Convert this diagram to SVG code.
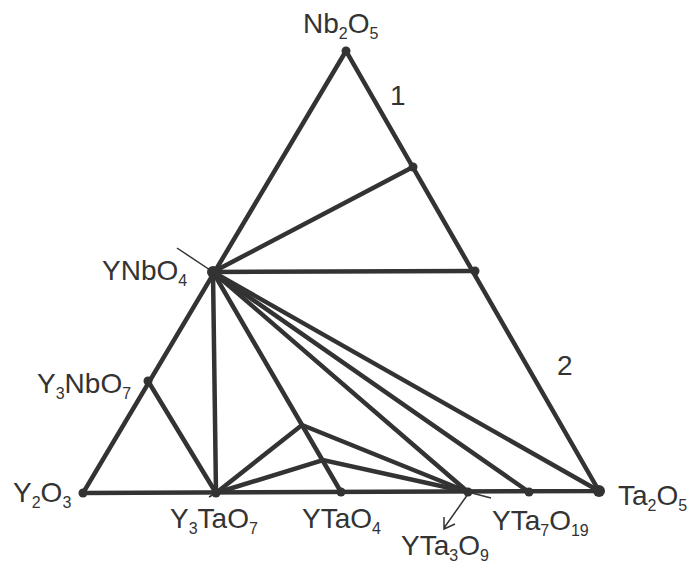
<svg xmlns="http://www.w3.org/2000/svg" width="689" height="566" viewBox="0 0 689 566">
<style>
.l{stroke:#333;stroke-width:4.5;fill:none;stroke-linecap:round}
.t{stroke:#333;stroke-width:1.5;fill:none}
.d{fill:#333}
text{font-family:"Liberation Sans",Arial,sans-serif;font-size:28px;fill:#333}
.s{font-size:16px}
</style>
<rect width="689" height="566" fill="#fff"/>
<g id="connectors">
<path class="l" d="M346,51 L83,493 L599,491 Z"/>
<path class="l" d="M213,272 L413,167"/>
<path class="l" d="M213,272 L475,271"/>
<path class="l" d="M213,272 L216,493"/>
<path class="l" d="M213,272 L341,492"/>
<path class="l" d="M213,272 L468,492"/>
<path class="l" d="M213,272 L529,492"/>
<path class="l" d="M213,272 L599,491"/>
<path class="l" d="M148,381 L216,493"/>
<path class="l" d="M216,493 L302,425 L468,492"/>
<path class="l" d="M216,493 L323,460 L468,492"/>
<path class="t" d="M213,272 L177,248"/>
<path class="t" d="M468,492 L491,498"/>
<path class="t" d="M209,497 L216,493"/>
<path class="t" d="M468,494 L444,528 M444,517 L444,529 L455,524"/>
</g>
<g id="Nb2O5"><circle class="d" cx="346" cy="51" r="4.5"/><text x="303" y="33">Nb<tspan class="s" dy="6">2</tspan><tspan dy="-6">O</tspan><tspan class="s" dy="6">5</tspan></text></g>
<g id="p1"><circle class="d" cx="413" cy="167" r="4.5"/></g>
<g id="p2"><circle class="d" cx="475" cy="271" r="4.5"/></g>
<g id="YNbO4"><circle class="d" cx="213" cy="272" r="6"/><text x="102" y="280">YNbO<tspan class="s" dy="6">4</tspan></text></g>
<g id="Y3NbO7"><circle class="d" cx="148" cy="381" r="4.5"/><text x="37" y="393">Y<tspan class="s" dy="6">3</tspan><tspan dy="-6">NbO</tspan><tspan class="s" dy="6">7</tspan></text></g>
<g id="Y2O3"><circle class="d" cx="83" cy="493" r="4.5"/><text x="13" y="502">Y<tspan class="s" dy="6">2</tspan><tspan dy="-6">O</tspan><tspan class="s" dy="6">3</tspan></text></g>
<g id="Y3TaO7"><circle class="d" cx="216" cy="493" r="4.5"/><text x="170" y="528">Y<tspan class="s" dy="6">3</tspan><tspan dy="-6">TaO</tspan><tspan class="s" dy="6">7</tspan></text></g>
<g id="YTaO4"><circle class="d" cx="341" cy="492" r="4.5"/><text x="302" y="528">YTaO<tspan class="s" dy="6">4</tspan></text></g>
<g id="YTa3O9"><circle class="d" cx="468" cy="492" r="4.5"/><text x="401" y="555">YTa<tspan class="s" dy="6">3</tspan><tspan dy="-6">O</tspan><tspan class="s" dy="6">9</tspan></text></g>
<g id="YTa7O19"><circle class="d" cx="529" cy="492" r="4.5"/><text x="492" y="530">YTa<tspan class="s" dy="6">7</tspan><tspan dy="-6">O</tspan><tspan class="s" dy="6">19</tspan></text></g>
<g id="Ta2O5"><circle class="d" cx="599" cy="491" r="6"/><text x="618" y="505">Ta<tspan class="s" dy="6">2</tspan><tspan dy="-6">O</tspan><tspan class="s" dy="6">5</tspan></text></g>
<g id="labels"><text x="390" y="105">1</text><text x="557" y="375">2</text></g>
</svg>
